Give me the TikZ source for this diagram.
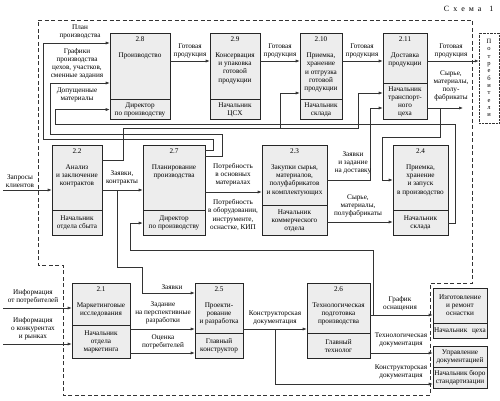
\documentclass[tikz,border=0pt]{standalone}
\usepackage{fontspec}
\setmainfont{Liberation Serif}
\usetikzlibrary{arrows.meta}

\begin{document}
\begin{tikzpicture}[x=1pt,y=-1pt,font=\fontsize{7.2}{8.1}\selectfont,
  box/.style={draw=black!85,fill=black!7,line width=.55pt,inner sep=1pt,align=center},
  hdtext/.style={anchor=north,align=center,inner sep=0pt,yshift=-4pt},
  lbl/.style={align=center,inner sep=0pt},
  flow/.style={draw=black!80,line width=.65pt,-{Latex[length=4pt,width=3pt]}}]
  \useasboundingbox (0,0) rectangle (500,401);
  % border of the system
  \draw[black!80,line width=.65pt,dash pattern=on 4pt off 2.5pt]
    (38,20) -- (472,20) -- (472,283) -- (430,283) -- (430,395) -- (63,395) -- (63,265) -- (38,265) -- cycle;
  \node[anchor=east,font=\fontsize{8}{9}\selectfont] (title) at (497,9) {С\hspace{4pt}х\hspace{4pt}е\hspace{4pt}м\hspace{4pt}а\hspace{8pt}1};
  \node[draw=black!80,densely dotted,minimum width=20,minimum height=90,inner sep=0pt,align=center,
    font=\fontsize{6.5}{7.3}\selectfont] (cons) at (489,78) {П\\о\\т\\р\\е\\б\\и\\т\\е\\л\\и};

  % first row
  \node[box,minimum width=60,minimum height=66] (p28) at (140,66) {};
  \node[hdtext] (p28t) at (p28.north) {2.8\\[8pt]Производство};
  \node[box,minimum width=60,minimum height=20,anchor=north] (p28b) at (p28.south) {Директор\\по производству};
  \node[box,minimum width=50,minimum height=66] (p29) at (235,66) {};
  \node[hdtext] (p29t) at (p29.north) {2.9\\[8pt]Консервация\\и упаковка\\готовой\\продукции};
  \node[box,minimum width=50,minimum height=20,anchor=north] (p29b) at (p29.south) {Начальник\\ЦСХ};
  \node[box,minimum width=42,minimum height=66] (p210) at (321,66) {};
  \node[hdtext] (p210t) at (p210.north) {2.10\\[8pt]Приемка,\\хранение\\и отгрузка\\готовой\\продукции};
  \node[box,minimum width=42,minimum height=20,anchor=north] (p210b) at (p210.south) {Начальник\\склада};
  \node[box,minimum width=44,minimum height=50] (p211) at (405,58) {};
  \node[hdtext] (p211t) at (p211.north) {2.11\\[8pt]Доставка\\продукции};
  \node[box,minimum width=44,minimum height=36,anchor=north] (p211b) at (p211.south) {Начальник\\транспорт-\\ного\\цеха};

  % second row
  \node[box,minimum width=50,minimum height=65] (p22) at (77,177.5) {};
  \node[hdtext] (p22t) at (p22.north) {2.2\\[8pt]Анализ\\и заключение\\контрактов};
  \node[box,minimum width=50,minimum height=25,anchor=north] (p22b) at (p22.south) {Начальник\\отдела сбыта};
  \node[box,minimum width=62,minimum height=65] (p27) at (174,177.5) {};
  \node[hdtext] (p27t) at (p27.north) {2.7\\[8pt]Планирование\\производства};
  \node[box,minimum width=62,minimum height=25,anchor=north] (p27b) at (p27.south) {Директор\\по производству};
  \node[box,minimum width=65,minimum height=60] (p23) at (294.5,175) {};
  \node[hdtext] (p23t) at (p23.north) {2.3\\[8pt]Закупки сырья,\\материалов,\\полуфабрикатов\\и комплектующих};
  \node[box,minimum width=65,minimum height=30,anchor=north] (p23b) at (p23.south) {Начальник\\коммерческого\\отдела};
  \node[box,minimum width=55,minimum height=65] (p24) at (420.5,177.5) {};
  \node[hdtext] (p24t) at (p24.north) {2.4\\[8pt]Приемка,\\хранение\\и запуск\\в производство};
  \node[box,minimum width=55,minimum height=25,anchor=north] (p24b) at (p24.south) {Начальник\\склада};

  % third row
  \node[box,minimum width=58,minimum height=42] (p21) at (101,304) {};
  \node[hdtext] (p21t) at (p21.north) {2.1\\[8pt]Маркетинговые\\исследования};
  \node[box,minimum width=58,minimum height=33,anchor=north] (p21b) at (p21.south) {Начальник\\отдела\\маркетинга};
  \node[box,minimum width=48,minimum height=50] (p25) at (219,308) {};
  \node[hdtext] (p25t) at (p25.north) {2.5\\[8pt]Проекти-\\рование\\и разработка};
  \node[box,minimum width=48,minimum height=25,anchor=north] (p25b) at (p25.south) {Главный\\конструктор};
  \node[box,minimum width=63,minimum height=50] (p26) at (338.5,308) {};
  \node[hdtext] (p26t) at (p26.north) {2.6\\[8pt]Технологическая\\подготовка\\производства};
  \node[box,minimum width=63,minimum height=25,anchor=north] (p26b) at (p26.south) {Главный\\технолог};
  \node[box,minimum width=54,minimum height=35] (ptool) at (460,305.5) {Изготовление\\и ремонт\\оснастки};
  \node[box,minimum width=54,minimum height=15,anchor=north] (ptoolb) at (ptool.south) {Начальник\hspace{3pt} цеха};
  \node[box,minimum width=54,minimum height=21] (pdoc) at (460,356.5) {Управление\\документацией};
  \node[box,minimum width=54,minimum height=21,anchor=north] (pdocb) at (pdoc.south) {Начальник бюро\\стандартизации};

  % free ends and branch points
  \coordinate (inq) at (3,190);
  \coordinate (info1) at (3,308);
  \coordinate (info2) at (3,344);
  \coordinate (rawout) at (463,108);
  \coordinate (j1) at (280,128);
  \coordinate (j2) at (117,190);
  \coordinate (j3) at (373,315);
  \coordinate (j4) at (440,108);
  \coordinate (j5) at (275,329);

  % top flows
  \draw[flow] (p28.east |- 0,61) -- (p29.west |- 0,61);
  \draw[flow] (p29.east |- 0,61) -- (p210.west |- 0,61);
  \draw[flow] (p210.east |- 0,61) -- (p211.west |- 0,61);
  \draw[flow] (p211.east |- 0,61) -- (cons.west |- 0,61);
  \draw[flow] (p211b.east |- 0,108) -- (rawout);
  \draw[flow] (j4) |- (382,137) |- (p24.west |- 0,180);
  \draw[flow] (p27.east |- 0,150) -- (213,150) |- (43,139) |- (p28.west |- 0,43);
  \draw[flow] (p27.east |- 0,156) -- (222,156) |- (50,134) |- (p28.west |- 0,83);
  \draw[flow] (p24b.east) -| (455,124) -- (55,124) |- (p28b.west);
  \draw[flow] (p22.east |- 0,160) -- (123,160) |- (358,128) |- (p211b.west |- 0,93);
  \draw[flow] (j1) |- (p210.west |- 0,93);

  % middle flows
  \draw[flow] (inq) -- (p22.west |- inq);
  \draw[flow] (p22.east |- 0,190) -- (p27.west |- 0,190);
  \draw[flow] (p27.east |- 0,192) -- (p23.west |- 0,192);
  \draw[flow] (p23.east |- 0,180) -| (370,108) -- (p211b.west |- 0,108);
  \draw[flow] (p23b.east |- 0,222) -- (p24b.west |- 0,222);
  \draw[flow] (j2) |- (142,267) |- (p25.west |- 0,293);
  \draw[flow] (j3) |- (130,250) |- (p27b.west);

  % bottom flows
  \draw[flow] (info1) -- (p21.west |- info1);
  \draw[flow] (info2) -- (p21b.west |- info2);
  \draw[flow] (p21b.east |- 0,329) -- (p25.west |- 0,329);
  \draw[flow] (p21b.east |- 0,353) -- (p25b.west |- 0,353);
  \draw[flow] (p25.east |- 0,329) -- (p26.west |- 0,329);
  \draw[flow] (j5) |- (pdocb.west |- 0,384);
  \draw[flow] (p26.east |- 0,315) -- (ptool.west |- 0,315);
  \draw[flow] (p26b.east |- 0,353) -- (pdoc.west |- 0,353);

  % labels
  \node[lbl] (lplan) at (80,32) {План\\производства};
  \node[lbl] (lsched) at (77,64) {Графики\\производства\\цехов, участков,\\сменные задания};
  \node[lbl] (lmat) at (77,95) {Допущенные\\материалы};
  \node[lbl] (lgp1) at (190,51) {Готовая\\продукция};
  \node[lbl] (lgp2) at (280,51) {Готовая\\продукция};
  \node[lbl] (lgp3) at (362,51) {Готовая\\продукция};
  \node[lbl] (lgp4) at (451,51) {Готовая\\продукция};
  \node[lbl] (lraw1) at (451,86) {Сырье,\\материалы,\\полу-\\фабрикаты};
  \node[lbl] (linq) at (20,181) {Запросы\\клиентов};
  \node[lbl] (lcont) at (122,178) {Заявки,\\контракты};
  \node[lbl] (lneed1) at (233,175) {Потребность\\в основных\\материалах};
  \node[lbl] (lneed2) at (233,215) {Потребность\\в оборудовании,\\инструменте,\\оснастке, КИП};
  \node[lbl] (ldeliv) at (353,163) {Заявки\\и задание\\на доставку};
  \node[lbl] (lraw2) at (358,206) {Сырье,\\материалы,\\полуфабрикаты};
  \node[lbl] (linfo1) at (33,297) {Информация\\от потребителей};
  \node[lbl] (linfo2) at (33,329) {Информация\\о конкурентах\\и рынках};
  \node[lbl] (lord) at (172,287) {Заявки};
  \node[lbl] (ltask) at (163,313) {Задание\\на перспективные\\разработки};
  \node[lbl] (leval) at (163,342) {Оценка\\потребителей};
  \node[lbl] (ldoc1) at (275,318) {Конструкторская\\документация};
  \node[lbl] (lsch) at (400,304) {График\\оснащения};
  \node[lbl] (ltech) at (401,340) {Технологическая\\документация};
  \node[lbl] (ldoc2) at (401,372) {Конструкторская\\документация};
\end{tikzpicture}
\end{document}
